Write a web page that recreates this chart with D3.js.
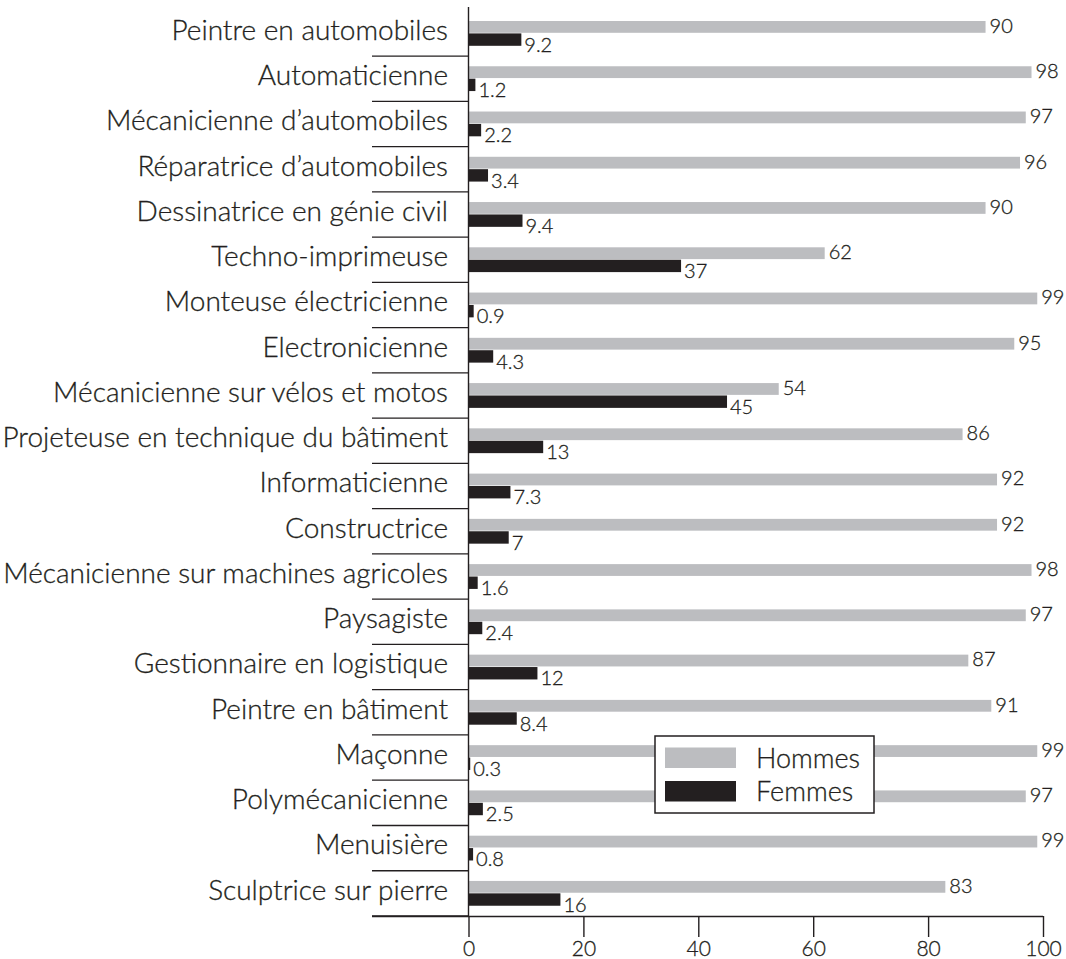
<!DOCTYPE html>
<html><head><meta charset="utf-8">
<script src="https://cdn.jsdelivr.net/npm/d3@7"></script>
<style>body{margin:0;background:#fff}svg{display:block}text{font-family:Lato,"Noto Sans",sans-serif;font-weight:300;fill:#231f20;stroke:#231f20;stroke-width:0.3px}</style>
</head><body>
<svg id="c" width="1066" height="959"></svg>
<script>
const categories = ["Peintre en automobiles","Automaticienne","Mécanicienne d’automobiles","Réparatrice d’automobiles","Dessinatrice en génie civil","Techno-imprimeuse","Monteuse électricienne","Electronicienne","Mécanicienne sur vélos et motos","Projeteuse en technique du bâtiment","Informaticienne","Constructrice","Mécanicienne sur machines agricoles","Paysagiste","Gestionnaire en logistique","Peintre en bâtiment","Maçonne","Polymécanicienne","Menuisière","Sculptrice sur pierre"];
const hommes = [90,98,97,96,90,62,99,95,54,86,92,92,98,97,87,91,99,97,99,83];
const femmes = [9.2,1.2,2.2,3.4,9.4,37,0.9,4.3,45,13,7.3,7,1.6,2.4,12,8.4,0.3,2.5,0.8,16];
const xTicks = [0,20,40,60,80,100];
const seriesNames = ["Hommes","Femmes"];
const colors = ["#bcbdc0","#231f20"];

const svg = d3.select("#c");
const x = d3.scaleLinear().domain([0,100]).range([468.5,1043]);
const y = d3.scaleBand().domain(categories).range([10.8,916]);
const bw = y.bandwidth();

// category labels
svg.append("g").selectAll("text").data(categories).join("text")
  .attr("x",448).attr("y",d=>y(d)+29).attr("text-anchor","end")
  .style("font-size","28px").text(d=>d);

// separators
svg.append("g").selectAll("line").data(categories).join("line")
  .attr("x1",372).attr("x2",468.5)
  .attr("y1",d=>y(d)+bw).attr("y2",d=>y(d)+bw)
  .attr("stroke","#231f20").attr("stroke-width",1.3);

// bars
const rows = categories.map((c,i)=>({c,h:hommes[i],f:femmes[i]}));
const g = svg.append("g");
g.selectAll("rect.h").data(rows).join("rect").attr("class","h")
  .attr("x",x(0)).attr("y",d=>y(d.c)+10.2).attr("width",d=>x(d.h)-x(0)).attr("height",11.8)
  .attr("fill",colors[0]);
g.selectAll("rect.f").data(rows).join("rect").attr("class","f")
  .attr("x",x(0)).attr("y",d=>y(d.c)+22.6).attr("width",d=>x(d.f)-x(0)).attr("height",12.4)
  .attr("fill",colors[1]);
g.selectAll("text.h").data(rows).join("text").attr("class","h")
  .attr("x",d=>x(d.h)+4).attr("y",d=>y(d.c)+22).style("font-size","20px").text(d=>d.h);
g.selectAll("text.f").data(rows).join("text").attr("class","f")
  .attr("x",d=>x(d.f)+3).attr("y",d=>y(d.c)+41).style("font-size","20px").text(d=>d.f);

// axes
svg.append("line").attr("x1",x(0)).attr("x2",x(0)).attr("y1",7).attr("y2",916)
  .attr("stroke","#231f20").attr("stroke-width",1.4);
const xa = svg.append("g").attr("transform","translate(0,916)")
  .call(d3.axisBottom(x).tickValues(xTicks).tickSize(21).tickSizeOuter(0).tickPadding(4));
xa.select(".domain").attr("stroke","#231f20").attr("stroke-width",1.4).attr("d",`M372,0.5H${x(100)}`);
xa.selectAll(".tick line").attr("stroke","#231f20").attr("stroke-width",1.4);
xa.selectAll(".tick text").style("font-size","21px").style("font-family","Lato,sans-serif").style("font-weight","300").attr("fill","#231f20");

// legend
const lg = svg.append("g");
lg.append("rect").attr("x",655).attr("y",736).attr("width",219).attr("height",77)
  .attr("fill","#fff").attr("stroke","#231f20").attr("stroke-width",1.5);
seriesNames.forEach((n,i)=>{
  lg.append("rect").attr("x",665).attr("y",747.5+i*33.5).attr("width",71).attr("height",20.5).attr("fill",colors[i]);
  lg.append("text").attr("x",756).attr("y",767.5+i*33.5).style("font-size","27px").text(n);
});
</script>
</body></html>
